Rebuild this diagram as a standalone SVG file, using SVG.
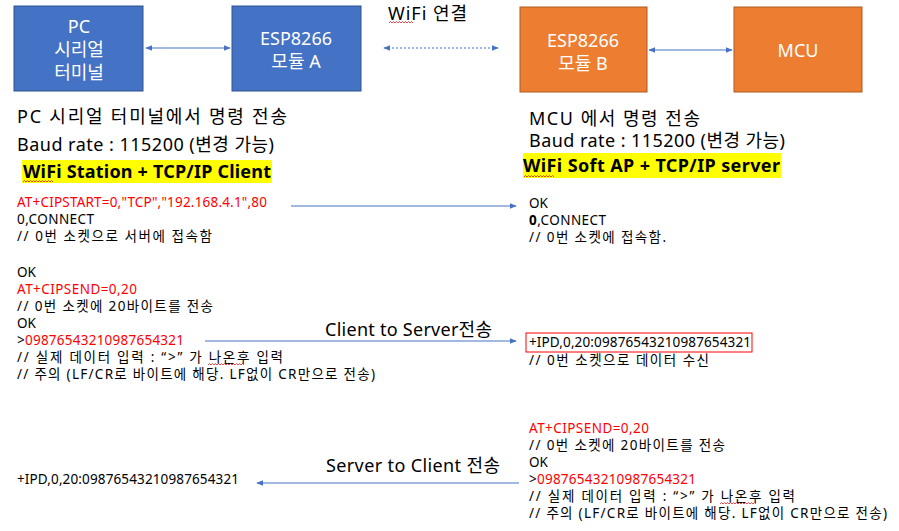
<svg xmlns="http://www.w3.org/2000/svg" width="899" height="531" viewBox="0 0 899 531">
<style>
text{font-family:"Noto Sans","Noto Sans CJK KR",sans-serif;fill:#000}
.bx{font-size:18px;fill:#fff;text-anchor:middle}
.h{font-size:18px}
.hb{font-size:18px;font-weight:bold}
.s{font-size:13.5px}
.r{fill:#ff0000}
.blue{fill:#4472c4;stroke:#2f528f;stroke-width:1}
.org{fill:#ed7d31;stroke:#ae5a21;stroke-width:1}
.ln{stroke:#4472c4;stroke-width:1.2;fill:none}
.sq{stroke:#e02020;stroke-width:0.8;fill:none}
</style>
<defs>
<marker id="ah" viewBox="0 0 10 10" refX="9" refY="5" markerWidth="6" markerHeight="6" orient="auto-start-reverse"><path d="M0,1 L10,5 L0,9 z" fill="#4472c4"/></marker>
</defs>
<rect width="899" height="531" fill="#fff"/>
<g id="pc"><rect class="blue" x="14" y="6" width="129" height="85"/><text class="bx" x="79" y="33">PC</text><text class="bx" x="79" y="56">시리얼</text><text class="bx" x="79" y="79">터미널</text></g>
<g id="espA"><rect class="blue" x="232" y="6" width="129" height="85"/><text class="bx" x="296" y="45">ESP8266</text><text class="bx" x="296" y="68">모듈 A</text></g>
<g id="espB"><rect class="org" x="520" y="7" width="127" height="85"/><text class="bx" x="583" y="47">ESP8266</text><text class="bx" x="583" y="70">모듈  B</text></g>
<g id="mcu"><rect class="org" x="734" y="7" width="128" height="85"/><text class="bx" x="798" y="57">MCU</text></g>
<g id="connectors">
<line class="ln" x1="146" y1="48" x2="230" y2="48" marker-start="url(#ah)" marker-end="url(#ah)"/>
<line class="ln" x1="384" y1="48" x2="498" y2="48" stroke-dasharray="2,2" marker-start="url(#ah)" marker-end="url(#ah)"/>
<line class="ln" x1="649" y1="50" x2="732" y2="50" marker-start="url(#ah)" marker-end="url(#ah)"/>
<line class="ln" x1="291" y1="206" x2="516" y2="206" marker-end="url(#ah)"/>
<line class="ln" x1="205" y1="341" x2="516" y2="341" marker-end="url(#ah)"/>
<line class="ln" x1="519" y1="483" x2="257" y2="483" marker-end="url(#ah)"/>
</g>
<g id="labels">
<text class="h" x="388" y="20" textLength="79">WiFi 연결</text>
<path class="sq" d="M389,23 l1.5,-1.5 l1.5,1.5 l1.5,-1.5 l1.5,1.5 l1.5,-1.5 l1.5,1.5 l1.5,-1.5 l1.5,1.5 l1.5,-1.5 l1.5,1.5 l1.5,-1.5 l1.5,1.5 l1.5,-1.5 l1.5,1.5 l1.5,-1.5 l1.5,1.5"/>
<text class="h" x="325" y="336" textLength="167">Client to Server전송</text>
<text class="h" x="326" y="472" textLength="174">Server to Client 전송</text>
</g>
<g id="left">
<text class="h" x="17" y="123" textLength="270">PC 시리얼 터미널에서 명령 전송</text>
<text class="h" x="17" y="151" textLength="257">Baud rate : 115200 (변경 가능)</text>
<rect x="22" y="160" width="250" height="23" fill="#ffff00"/>
<text class="hb" x="23" y="178" textLength="248">WiFi Station + TCP/IP Client</text>
<path class="sq" d="M23,182 l1.5,-1.5 l1.5,1.5 l1.5,-1.5 l1.5,1.5 l1.5,-1.5 l1.5,1.5 l1.5,-1.5 l1.5,1.5 l1.5,-1.5 l1.5,1.5 l1.5,-1.5 l1.5,1.5 l1.5,-1.5 l1.5,1.5 l1.5,-1.5 l1.5,1.5 l1.5,-1.5 l1.5,1.5 l1.5,-1.5 l1.5,1.5"/>
<text class="s r" x="17" y="207" textLength="250">AT+CIPSTART=0,"TCP","192.168.4.1",80</text>
<text class="s" x="17" y="224" textLength="77">0,CONNECT</text>
<text class="s" x="17" y="241" textLength="195">// 0번 소켓으로 서버에 접속함</text>
<text class="s" x="17" y="277">OK</text>
<text class="s r" x="17" y="294" textLength="120">AT+CIPSEND=0,20</text>
<text class="s" x="17" y="311" textLength="196">// 0번 소켓에 20바이트를 전송</text>
<text class="s" x="17" y="328">OK</text>
<text class="s" x="17" y="345" textLength="167">&gt;<tspan class="r">09876543210987654321</tspan></text>
<text class="s" x="17" y="362" textLength="266">//  실제 데이터 입력 : “&gt;” 가 나온후 입력</text>
<path class="sq" d="M208,365 l1.5,-1.5 l1.5,1.5 l1.5,-1.5 l1.5,1.5 l1.5,-1.5 l1.5,1.5 l1.5,-1.5 l1.5,1.5 l1.5,-1.5 l1.5,1.5 l1.5,-1.5 l1.5,1.5 l1.5,-1.5 l1.5,1.5 l1.5,-1.5 l1.5,1.5 l1.5,-1.5 l1.5,1.5 l1.5,-1.5 l1.5,1.5 l1.5,-1.5 l1.5,1.5 l1.5,-1.5 l1.5,1.5"/>
<text class="s" x="17" y="379" textLength="358">// 주의 (LF/CR로 바이트에 해당. LF없이 CR만으로 전송)</text>
<text class="s" x="17" y="484" textLength="222">+IPD,0,20:09876543210987654321</text>
</g>
<g id="right">
<text class="h" x="529" y="125" textLength="171">MCU 에서 명령 전송</text>
<text class="h" x="529" y="147" textLength="256">Baud rate : 115200 (변경 가능)</text>
<rect x="523" y="153" width="258" height="25" fill="#ffff00"/>
<text class="hb" x="523" y="172" textLength="257">WiFi Soft AP + TCP/IP server</text>
<path class="sq" d="M524,177 l1.5,-1.5 l1.5,1.5 l1.5,-1.5 l1.5,1.5 l1.5,-1.5 l1.5,1.5 l1.5,-1.5 l1.5,1.5 l1.5,-1.5 l1.5,1.5 l1.5,-1.5 l1.5,1.5 l1.5,-1.5 l1.5,1.5 l1.5,-1.5 l1.5,1.5 l1.5,-1.5 l1.5,1.5 l1.5,-1.5 l1.5,1.5"/>
<text class="s" x="529" y="208">OK</text>
<text class="s" x="529" y="225" textLength="77"><tspan font-weight="bold">0</tspan>,CONNECT</text>
<text class="s" x="529" y="242" textLength="137">// 0번 소켓에 접속함.</text>
<rect x="526" y="333" width="226" height="19" fill="none" stroke="#ff0000" stroke-width="1"/>
<text class="s" x="529" y="347" textLength="222">+IPD,0,20:09876543210987654321</text>
<text class="s" x="529" y="365" textLength="180">// 0번 소켓으로 데이터 수신</text>
<text class="s r" x="529" y="433" textLength="120">AT+CIPSEND=0,20</text>
<text class="s" x="529" y="450" textLength="196">// 0번 소켓에 20바이트를 전송</text>
<text class="s" x="529" y="467">OK</text>
<text class="s" x="529" y="484" textLength="167">&gt;<tspan class="r">09876543210987654321</tspan></text>
<text class="s" x="529" y="501" textLength="266">//  실제 데이터 입력 : “&gt;” 가 나온후 입력</text>
<path class="sq" d="M720,504 l1.5,-1.5 l1.5,1.5 l1.5,-1.5 l1.5,1.5 l1.5,-1.5 l1.5,1.5 l1.5,-1.5 l1.5,1.5 l1.5,-1.5 l1.5,1.5 l1.5,-1.5 l1.5,1.5 l1.5,-1.5 l1.5,1.5 l1.5,-1.5 l1.5,1.5 l1.5,-1.5 l1.5,1.5 l1.5,-1.5 l1.5,1.5 l1.5,-1.5 l1.5,1.5 l1.5,-1.5 l1.5,1.5"/>
<text class="s" x="529" y="518" textLength="358">// 주의 (LF/CR로 바이트에 해당. LF없이 CR만으로 전송)</text>
</g>
</svg>
